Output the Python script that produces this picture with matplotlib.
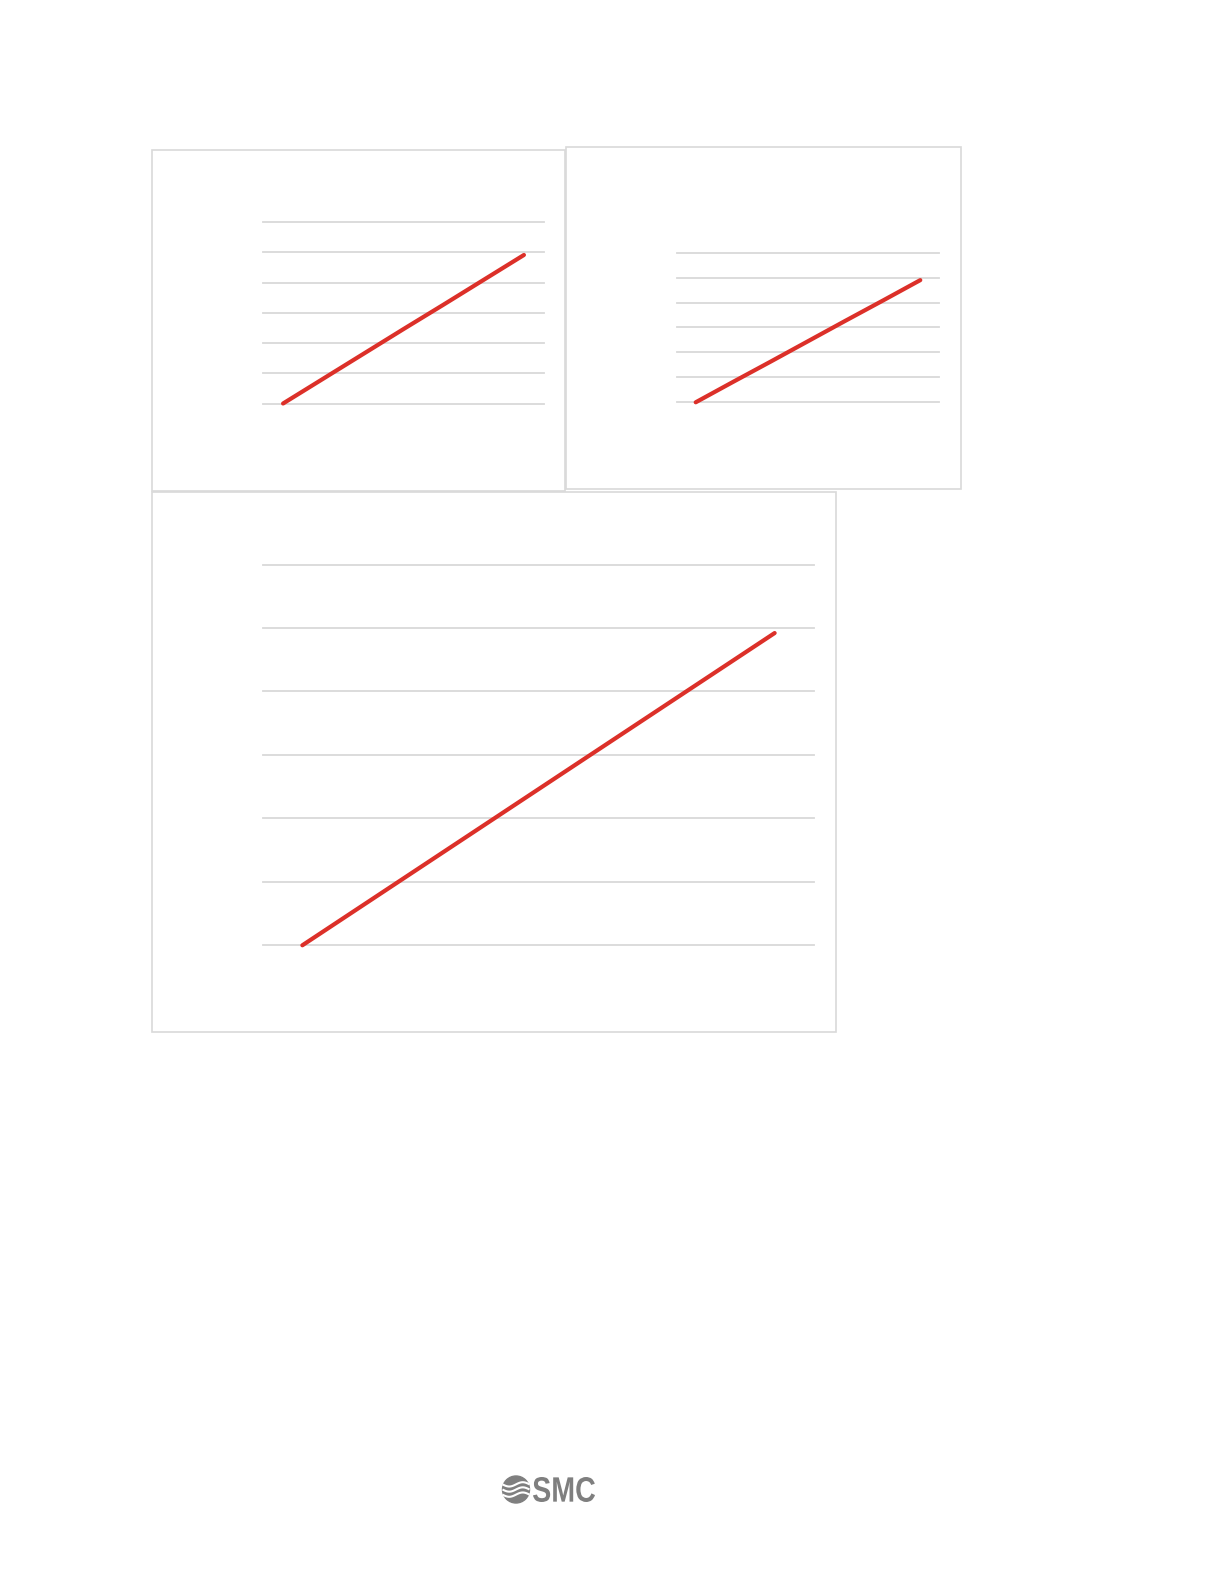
import numpy as np
import matplotlib
matplotlib.use("Agg")
import matplotlib.pyplot as plt
from matplotlib.patches import Rectangle, Circle, PathPatch
from matplotlib.textpath import TextPath
from matplotlib.font_manager import FontProperties
from matplotlib.transforms import Affine2D

W, H = 1224, 1584  # page size in pixels

# data: 7 categories per chart, values in gridline units (grid 0..6)
categories = [1, 2, 3, 4, 5, 6, 7]
top_left_values = [0.0, 0.82, 1.64, 2.46, 3.27, 4.09, 4.91]
top_right_values = [0.0, 0.82, 1.63, 2.45, 3.27, 4.08, 4.90]
bottom_values = [0.0, 0.82, 1.64, 2.46, 3.28, 4.10, 4.92]
grid_levels = [0, 1, 2, 3, 4, 5, 6]

RED = "#dc3029"
GRID = "#d9d9d9"
BORDER = "#d9d9d9"
LOGO = "#7f7f7f"


def fig_rect(x0, y0, x1, y1):
    # pixel box (top-left origin) -> figure fraction [left, bottom, width, height]
    return [x0 / W, 1 - y1 / H, (x1 - x0) / W, (y1 - y0) / H]


fig = plt.figure(figsize=(W / 100, H / 100), dpi=100)
fig.patch.set_facecolor("white")

# chart frames
frames = [
    (152, 150, 565, 491),
    (566, 147, 961, 489),
    (152, 492, 836, 1032),
]
for x0, y0, x1, y1 in frames:
    fig.add_artist(Rectangle((x0 / W, 1 - y1 / H), (x1 - x0) / W, (y1 - y0) / H,
                             transform=fig.transFigure, fill=False,
                             edgecolor=BORDER, linewidth=1.2))

charts = [
    ((263, 222, 544, 403.5), top_left_values),
    ((677, 252.7, 939, 402.3), top_right_values),
    ((263, 564.5, 814, 945.3), bottom_values),
]

for box, vals in charts:
    ax = fig.add_axes(fig_rect(*box))
    ax.set_xlim(-0.5, len(categories) - 0.5)
    ax.set_ylim(grid_levels[0], grid_levels[-1])
    for g in grid_levels:
        ax.axhline(g, color=GRID, linewidth=1.3, clip_on=False, zorder=1)
    ax.plot(range(len(categories)), vals, color=RED, linewidth=3.0,
            solid_capstyle="round", clip_on=False, zorder=3)
    ax.set_xticks([])
    ax.set_yticks([])
    for s in ax.spines.values():
        s.set_visible(False)
    ax.patch.set_alpha(0)

# SMC logo at the bottom, drawn in a pixel-coordinate overlay (y up)
lax = fig.add_axes([0, 0, 1, 1])
lax.set_xlim(0, W)
lax.set_ylim(0, H)
lax.axis("off")
lax.patch.set_alpha(0)

cx, cy, r = 516, H - 1489.5, 13.5
lax.add_patch(Circle((cx, cy), r, color=LOGO))
t = np.linspace(-1, 1, 60)
for off in [-0.38, 0.0, 0.38]:
    lax.plot(cx + r * t, cy + r * (off + 0.16 * np.sin(np.pi * t)),
             color="white", linewidth=1.5, solid_capstyle="butt")

tp = TextPath((0, 0), "SMC", size=10,
              prop=FontProperties(family="Liberation Sans", weight="bold"))
ext = tp.get_extents()
x0, x1, y0, y1 = 533, 595, H - 1502, H - 1477
sx = (x1 - x0) / ext.width
sy = (y1 - y0) / ext.height
tr = Affine2D().translate(-ext.x0, -ext.y0).scale(sx, sy).translate(x0, y0)
lax.add_patch(PathPatch(tr.transform_path(tp), color=LOGO, lw=0))

fig.savefig("out.png", dpi=100, facecolor="white")
